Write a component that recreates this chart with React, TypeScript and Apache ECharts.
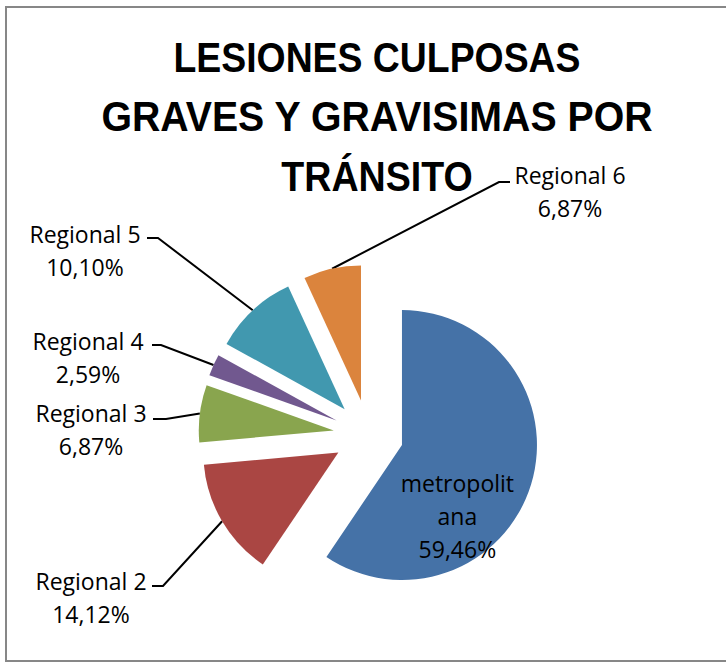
import React, { useEffect, useRef } from "react";
import * as echarts from "echarts";

const titleLines = ["LESIONES CULPOSAS", "GRAVES Y GRAVISIMAS POR", "TRÁNSITO"];
const categories = ["metropolitana", "Regional 2", "Regional 3", "Regional 4", "Regional 5", "Regional 6"];
const labelNames = ["metropolit\nana", "Regional 2", "Regional 3", "Regional 4", "Regional 5", "Regional 6"];
const values = [59.46, 14.12, 6.87, 2.59, 10.1, 6.87];
const colors = ["#4572A7", "#AA4643", "#89A54E", "#71588F", "#4198AF", "#DB843D"];

const fmt = (v: number) => v.toFixed(2).replace(".", ",") + "%";

// layout (not data): pie centre, radius, explosion distance
const CX = 368.5;
const CY = 434.8;
const R = 135;
const EXPLODE = 35;
const titleScale = [0.89, 0.935, 0.895];

// label block centres and leader tick positions
const labelPlace: Record<number, { x: number; y: number; ty: number; t1: number; t2: number }> = {
  1: { x: 91, y: 597, ty: 586, t1: 163, t2: 152 },
  2: { x: 91, y: 429, ty: 419, t1: 166, t2: 153 },
  3: { x: 88, y: 357, ty: 345, t1: 161, t2: 152 },
  4: { x: 85, y: 250, ty: 238, t1: 158, t2: 147 },
  5: { x: 570, y: 191, ty: 182, t1: 499, t2: 510 },
};

export default function App() {
  const ref = useRef<HTMLDivElement>(null);
  useEffect(() => {
    const chart = echarts.init(ref.current!, null, { renderer: "svg" });
    const total = values.reduce((a, b) => a + b, 0);
    let cum = 0;
    const series = values.map((v, i) => {
      const mid = ((cum + v / 2) / total) * Math.PI * 2;
      cum += v;
      const cx = CX + EXPLODE * Math.sin(mid);
      const cy = CY - EXPLODE * Math.cos(mid);
      return {
        type: "pie",
        silent: true,
        center: [cx, cy],
        radius: [0, R],
        startAngle: 90,
        clockwise: true,
        avoidLabelOverlap: false,
        emphasis: { disabled: true },
        data: categories.map((c, j) => ({
          name: c,
          value: values[j],
          itemStyle: { color: j === i ? colors[j] : "rgba(0,0,0,0)" },
          label: { show: j === i, position: j === 0 ? "inside" : "outside" },
          labelLine: { show: j === i && j !== 0 },
        })),
        label: {
          formatter: (p: any) => labelNames[p.dataIndex] + "\n" + fmt(values[p.dataIndex]),
          fontFamily: "'Open Sans', sans-serif",
          fontSize: 23,
          lineHeight: 33,
          color: "#000",
          align: "center",
        },
        labelLine: { length: 20, length2: 12, lineStyle: { color: "#000", width: 2 } },
        labelLayout: (params: any) => {
          const d = params.dataIndex;
          if (d === 0) return { dx: -12, dy: 50 };
          const pl = labelPlace[d];
          if (!pl) return {};
          const p0 = params.labelLinePoints ? params.labelLinePoints[0] : [pl.t1, pl.ty];
          return {
            x: pl.x,
            y: pl.y,
            align: "center",
            verticalAlign: "middle",
            labelLinePoints: [
              [p0[0], p0[1]],
              [pl.t1, pl.ty],
              [pl.t2, pl.ty],
            ],
          };
        },
      };
    });

    chart.setOption({
      animation: false,
      backgroundColor: "#ffffff",
      graphic: [
        {
          type: "rect",
          shape: { x: 6, y: 7, width: 740, height: 654 },
          style: { fill: "none", stroke: "#878787", lineWidth: 2 },
          silent: true,
        },
        ...titleLines.map((t, k) => ({
          type: "text",
          x: 377,
          y: 57 + k * 59.5,
          scaleX: titleScale[k],
          silent: true,
          style: {
            text: t,
            fontFamily: "'Liberation Sans', Arial, sans-serif",
            fontWeight: "bold",
            fontSize: 42,
            fill: "#000",
            textAlign: "center",
            textVerticalAlign: "middle",
          },
        })),
      ],
      series,
    });
    return () => chart.dispose();
  }, []);
  return <div ref={ref} style={{ position: "fixed", left: 0, top: 0, width: 726, height: 662 }} />;
}
